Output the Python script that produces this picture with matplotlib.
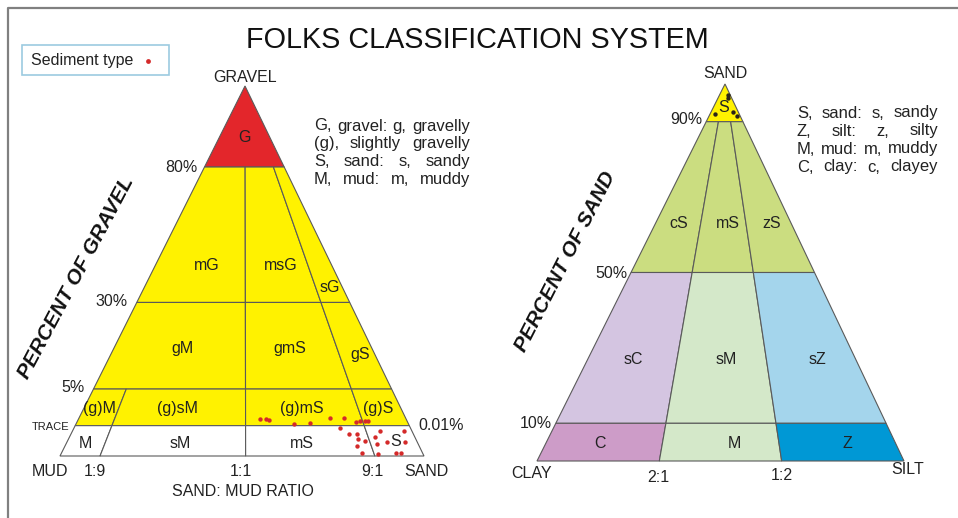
import numpy as np
import matplotlib.pyplot as plt
from matplotlib.patches import Polygon, Rectangle

plt.rcParams['font.family'] = ['Liberation Sans', 'DejaVu Sans']

# --- gravel / sand / mud triangle (left) ---
gravel_levels = [0, 0.01, 5, 30, 80, 100]      # % gravel class limits
ratio_levels = [0, 0.1, 0.5, 0.9, 1.0]          # sand/(sand+mud): 1:9, 1:1, 9:1
gsm_names = ['G', 'mG', 'msG', 'sG', 'gM', 'gmS', 'gS',
             '(g)M', '(g)sM', '(g)mS', '(g)S', 'M', 'sM', 'mS', 'S']
gsm_gravel = [(80, 100), (30, 80), (30, 80), (30, 80), (5, 30), (5, 30), (5, 30),
              (0.01, 5), (0.01, 5), (0.01, 5), (0.01, 5),
              (0, 0.01), (0, 0.01), (0, 0.01), (0, 0.01)]
gsm_ratio = [(0, 1), (0, .5), (.5, .9), (.9, 1), (0, .5), (.5, .9), (.9, 1),
             (0, .1), (.1, .5), (.5, .9), (.9, 1), (0, .1), (.1, .5), (.5, .9), (.9, 1)]
# samples: gravel %, sand share of the sand+mud part
sample_gravel = [0.85, 0.88, 0.78, 0.29, 0.41, 1.01, 1.01, 0.47, 0.65, 0.69, 0.65,
                 0.0091, 0.0072, 0.0073, 0.0055, 0.0049, 0.0033, 0.0009, 0.0064,
                 0.0081, 0.0041, 0.0045, 0.0007, 0.0082, 0.0045, 0.0011, 0.0011]
sample_ratio = [0.55, 0.57, 0.58, 0.665, 0.72, 0.79, 0.84, 0.875, 0.89, 0.905, 0.912,
                0.816, 0.841, 0.868, 0.863, 0.885, 0.854, 0.862, 0.915,
                0.929, 0.913, 0.935, 0.908, 0.983, 0.974, 0.945, 0.957]

# --- sand / silt / clay triangle (right) ---
sand_levels = [0, 10, 50, 90, 100]
silt_levels = [0, 1 / 3, 2 / 3, 1]              # clay:silt 2:1, 1:2
szc_names = ['S', 'cS', 'mS', 'zS', 'sC', 'sM', 'sZ', 'C', 'M', 'Z']
szc_sand = [(90, 100), (50, 90), (50, 90), (50, 90), (10, 50), (10, 50), (10, 50),
            (0, 10), (0, 10), (0, 10)]
szc_silt = [(0, 1), (0, 1 / 3), (1 / 3, 2 / 3), (2 / 3, 1), (0, 1 / 3), (1 / 3, 2 / 3),
            (2 / 3, 1), (0, 1 / 3), (1 / 3, 2 / 3), (2 / 3, 1)]
sample_sand = [97.2, 96.2, 92.0, 92.6, 91.6]
sample_silt = [0.757, 0.760, 0.187, 0.824, 0.903]

left_key = ['G, gravel: g, gravelly', '(g), slightly gravelly',
            'S, sand: s, sandy', 'M, mud: m, muddy']
right_key = ['S, sand: s, sandy', 'Z, silt: z, silty',
             'M, mud: m, muddy', 'C, clay: c, clayey']

# colours
YEL = '#FFF200'
gsm_colors = {'G': '#E3262B', 'M': 'white', 'sM': 'white', 'mS': 'white', 'S': 'white'}
szc_colors = {'S': YEL, 'cS': '#CBDD80', 'mS': '#CBDD80', 'zS': '#CBDD80',
              'sC': '#D4C5E1', 'sM': '#D4E8C9', 'sZ': '#A4D5EC',
              'C': '#CD9CC8', 'M': '#D4E8C9', 'Z': '#0098D5'}

# schematic layout of the drawing (pixels)
L_APEX, L_BASE_Y, L_BASE_X, L_W = (245, 86), 456, 60, 364
L_T = [1.0, 0.918, 0.819, 0.585, 0.219, 0.0]     # drawn depth of each gravel limit
L_U = [0.0, 0.11, 0.51, 0.865, 1.0]               # drawn position of each ratio limit
R_APEX, R_BASE_Y, R_BASE_X, R_W = (725, 84), 461, 537, 367


def left_xy(g, r):
    t = np.interp(g, gravel_levels, L_T)
    u = np.interp(r, ratio_levels, L_U)
    x = L_APEX[0] + t * (L_BASE_X + u * L_W - L_APEX[0])
    y = L_APEX[1] + t * (L_BASE_Y - L_APEX[1])
    return x, y


def right_xy(s, z):
    t = 1 - np.asarray(s) / 100.0
    x = R_APEX[0] + t * (R_BASE_X + np.asarray(z) * R_W - R_APEX[0])
    y = R_APEX[1] + t * (R_BASE_Y - R_APEX[1])
    return x, y


fig = plt.figure(figsize=(9.58, 5.18), dpi=100)
ax = fig.add_axes([0, 0, 1, 1])
ax.set_xlim(0, 958)
ax.set_ylim(518, 0)
ax.axis('off')

# frame
ax.plot([8, 8, 958], [518, 8, 8], color='#808080', lw=1.6)

# left regions
for name, (g0, g1), (r0, r1) in zip(gsm_names, gsm_gravel, gsm_ratio):
    pts = [left_xy(g1, r0), left_xy(g1, r1), left_xy(g0, r1), left_xy(g0, r0)]
    ax.add_patch(Polygon(pts, closed=True, fc=gsm_colors.get(name, YEL),
                         ec='#5a5a5a', lw=0.8))

# right regions
for name, (s0, s1), (z0, z1) in zip(szc_names, szc_sand, szc_silt):
    pts = [right_xy(s1, z0), right_xy(s1, z1), right_xy(s0, z1), right_xy(s0, z0)]
    ax.add_patch(Polygon(pts, closed=True, fc=szc_colors[name], ec='#5a5a5a', lw=0.8))

# samples
lx, ly = left_xy(np.array(sample_gravel), np.array(sample_ratio))
ax.scatter(lx, ly, s=10, color='#D42A2A', zorder=5, lw=0)
rx, ry = right_xy(sample_sand, sample_silt)
ax.scatter(rx, ry, s=10, color='#2a2418', zorder=5, lw=0)

# region labels
left_label_xy = {'G': (245, 137), 'mG': (207, 266), 'msG': (281, 266), 'sG': (330, 287),
                 'gM': (183, 348), 'gmS': (290, 348), 'gS': (360, 355),
                 '(g)M': (100, 409), '(g)sM': (178, 409), '(g)mS': (302, 409),
                 '(g)S': (378, 408), 'M': (85, 443), 'sM': (180, 443),
                 'mS': (302, 443), 'S': (396, 442)}
right_label_xy = {'S': (724, 108), 'cS': (679, 223), 'mS': (728, 223), 'zS': (772, 223),
                  'sC': (633, 360), 'sM': (726, 360), 'sZ': (817, 360),
                  'C': (600, 443), 'M': (734, 443), 'Z': (847, 443)}
for name in gsm_names:
    x, y = left_label_xy[name]
    ax.text(x, y, name, fontsize=11.5, ha='center', va='center', color='#222', zorder=6)
for name in szc_names:
    x, y = right_label_xy[name]
    ax.text(x, y, name, fontsize=11.5, ha='center', va='center', color='#222', zorder=6)

# title and legend box
ax.text(477, 40, 'FOLKS CLASSIFICATION SYSTEM', fontsize=20.7, ha='center', va='center',
        color='#111')
ax.add_patch(Rectangle((22, 45), 147, 30, fc='white', ec='#9ccbe0', lw=1.2))
ax.text(31, 60.5, 'Sediment type', fontsize=11.5, va='center', color='#222')
ax.scatter([148], [61], s=12, color='#D42A2A', lw=0)

# axis texts, left
kw = dict(fontsize=11.5, va='center', color='#222')
ax.text(245, 77, 'GRAVEL', ha='center', **kw)
ax.text(198, 168, '80%', ha='right', **kw)
ax.text(128, 302, '30%', ha='right', **kw)
ax.text(85, 388, '5%', ha='right', **kw)
ax.text(32, 427, 'TRACE', fontsize=8, va='center', color='#222')
ax.text(418, 426, '0.01%', ha='left', **kw)
ax.text(50, 472, 'MUD', ha='center', **kw)
ax.text(95, 472, '1:9', ha='center', **kw)
ax.text(241, 472, '1:1', ha='center', **kw)
ax.text(372, 472, '9:1', ha='center', **kw)
ax.text(426, 472, 'SAND', ha='center', **kw)
ax.text(243, 492, 'SAND: MUD RATIO', ha='center', **kw)
ax.text(76, 278, 'PERCENT OF GRAVEL', fontsize=15, fontweight='bold', fontstyle='italic',
        rotation=62, ha='center', va='center', rotation_mode='anchor', color='#111')

# axis texts, right
ax.text(725, 74, 'SAND', ha='center', **kw)
ax.text(702, 119, '90%', ha='right', **kw)
ax.text(628, 273, '50%', ha='right', **kw)
ax.text(552, 424, '10%', ha='right', **kw)
ax.text(532, 473, 'CLAY', ha='center', **kw)
ax.text(658, 477, '2:1', ha='center', **kw)
ax.text(782, 476, '1:2', ha='center', **kw)
ax.text(908, 470, 'SILT', ha='center', **kw)
ax.text(565, 262, 'PERCENT OF SAND', fontsize=15, fontweight='bold', fontstyle='italic',
        rotation=63, ha='center', va='center', rotation_mode='anchor', color='#111')


def justified(lines, x0, x1, y0, dy, size):
    rend = fig.canvas.get_renderer()
    for k, line in enumerate(lines):
        words = line.split()
        texts = [ax.text(0, y0 + k * dy, w, fontsize=size, va='center', color='#222')
                 for w in words]
        widths = [t.get_window_extent(rend).width for t in texts]
        gap = (x1 - x0 - sum(widths)) / (len(words) - 1)
        x = x0
        for t, w in zip(texts, widths):
            t.set_x(x)
            x += w + gap


justified(left_key, 314, 470, 126, 17.7, 12)
justified(right_key, 797, 938, 113, 18, 12)

fig.savefig('out.png', dpi=100)
